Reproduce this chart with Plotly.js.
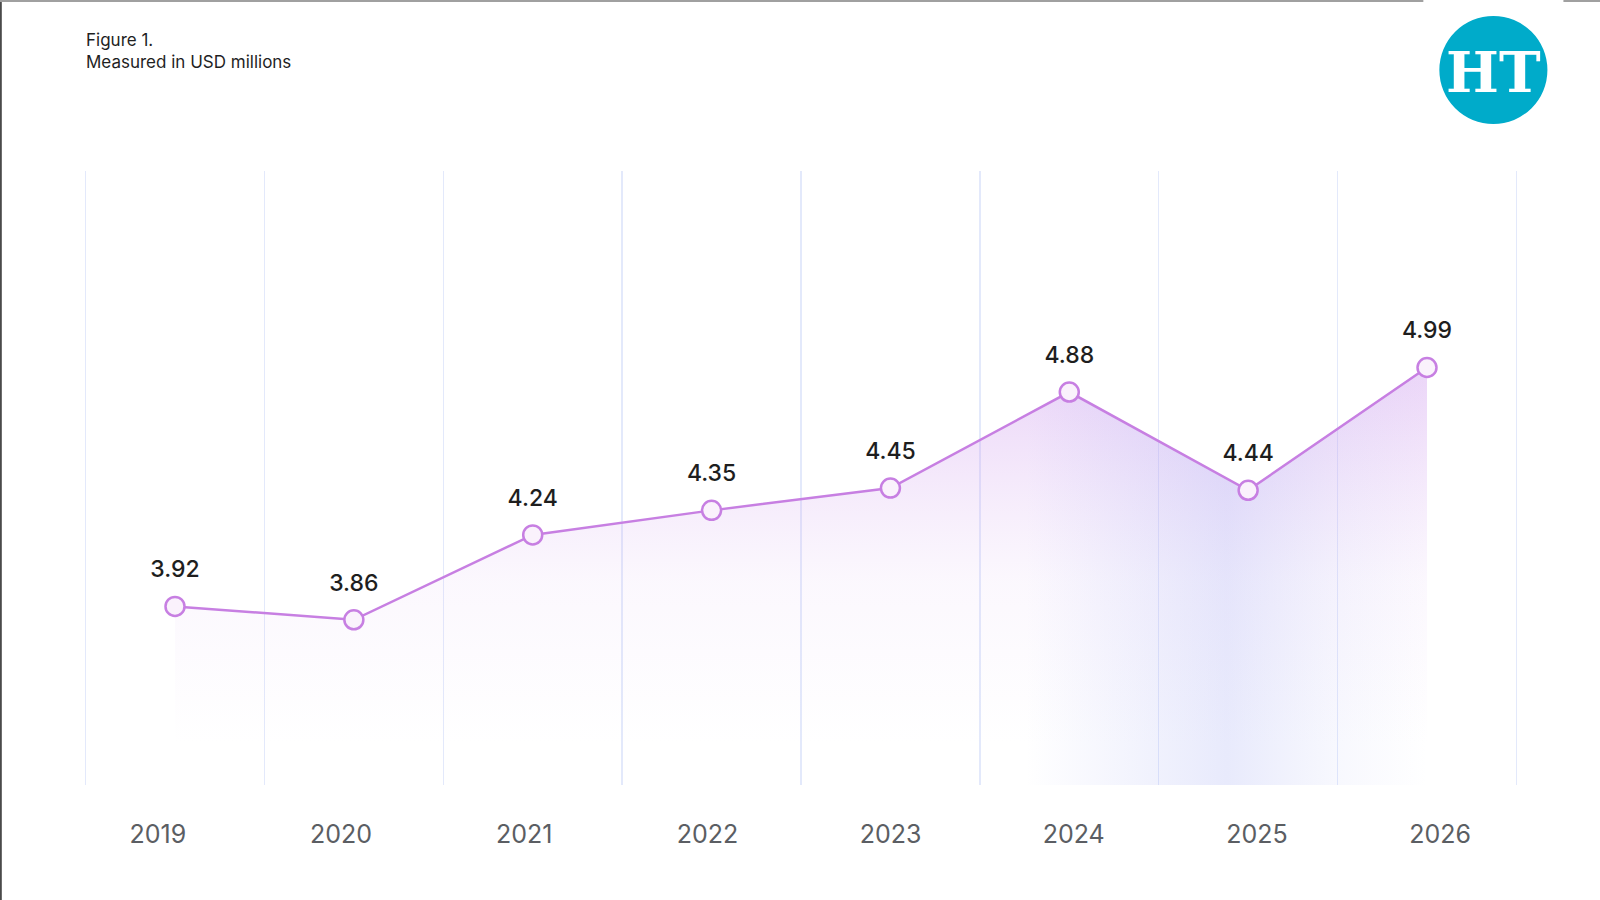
<!DOCTYPE html>
<html>
<head>
<meta charset="utf-8">
<script src="https://cdn.plot.ly/plotly-3.0.1.min.js"></script>
<style>
  html, body { margin: 0; padding: 0; background: #fff; }
  #graph { width: 1600px; height: 900px; }
</style>
</head>
<body>
<div id="graph"></div>
<script>
const years = ['2019', '2020', '2021', '2022', '2023', '2024', '2025', '2026'];
const values = [3.92, 3.86, 4.24, 4.35, 4.45, 4.88, 4.44, 4.99];
const valueLabels = values.map(v => v.toFixed(2));
const noteLines = ['Figure 1.', 'Measured in USD millions'];

// plot box in pixels (a few px wider than the grid so the edge lines show)
const W = 1600, H = 900;
const box = { l: 82.4, r: 1519.6, t: 171, b: 785 };
const px = x => (x - box.l) / (box.r - box.l);
const py = y => (box.b - y) / (box.b - box.t);

const lineColor = '#c77fe2';
const fontFamily = 'Inter, "Noto Sans", sans-serif';

drawChart();

function drawChart() {
  const glowPurple = {
    x: years, y: values,
    mode: 'none',
    fill: 'tozeroy',
    fillgradient: {
      type: 'vertical',
      start: 3.3,
      stop: 4.92,
      colorscale: [
        [0, 'rgba(210,170,238,0)'],
        [0.45, 'rgba(210,165,238,0.08)'],
        [1, 'rgba(200,140,235,0.34)']
      ]
    },
    hoverinfo: 'skip',
    showlegend: false
  };
  const glowBlue = {
    x: years, y: values,
    mode: 'none',
    fill: 'tozeroy',
    fillgradient: {
      type: 'horizontal',
      start: 0,
      stop: 7,
      colorscale: [
        [0, 'rgba(140,150,240,0)'],
        [0.68, 'rgba(140,150,240,0)'],
        [0.84, 'rgba(140,150,240,0.20)'],
        [0.93, 'rgba(150,160,240,0.07)'],
        [1, 'rgba(150,160,240,0)']
      ]
    },
    hoverinfo: 'skip',
    showlegend: false
  };
  const series = {
    x: years, y: values,
    mode: 'lines+markers',
    line: { color: lineColor, width: 2.5 },
    marker: { size: 19, color: '#faf2fc', line: { color: lineColor, width: 2.5 } },
    cliponaxis: false,
    hoverinfo: 'x+y',
    showlegend: false
  };
  // value labels, lifted clear of the markers by a bigger invisible marker
  const labels = {
    x: years, y: values,
    mode: 'markers+text',
    text: valueLabels,
    textposition: 'top center',
    textfont: { family: fontFamily, size: 23, color: '#1e1e1e', weight: 500 },
    marker: { size: 36, color: 'rgba(0,0,0,0)' },
    cliponaxis: false,
    hoverinfo: 'skip',
    showlegend: false
  };
  // carries the year labels on the offset axis
  const yearAxis = {
    x: years, y: values,
    xaxis: 'x2',
    mode: 'none',
    hoverinfo: 'skip',
    showlegend: false
  };

  const layout = {
    width: W, height: H,
    margin: { l: box.l, r: W - box.r, t: box.t, b: H - box.b, pad: 0 },
    paper_bgcolor: '#ffffff',
    plot_bgcolor: '#ffffff',
    font: { family: fontFamily },
    xaxis: {
      type: 'category',
      range: [-0.52, 7.52],
      tickson: 'boundaries',
      showgrid: true,
      gridcolor: '#e3e9fb',
      gridwidth: 1.5,
      showticklabels: false,
      ticks: '',
      zeroline: false,
      showline: false,
      fixedrange: true
    },
    xaxis2: {
      type: 'category',
      overlaying: 'x',
      anchor: 'y',
      side: 'bottom',
      range: [-0.414, 7.436],
      showgrid: false,
      zeroline: false,
      showline: false,
      ticks: '',
      ticklabelstandoff: 32,
      tickfont: { family: fontFamily, size: 25, color: '#5b5e63' },
      fixedrange: true
    },
    yaxis: {
      range: [3.12, 5.87],
      showgrid: false,
      zeroline: false,
      showticklabels: false,
      ticks: '',
      fixedrange: true
    },
    shapes: [
      // frame edges of the clipped figure
      { type: 'line', xref: 'paper', yref: 'paper', x0: px(1), x1: px(1), y0: py(0), y1: py(H),
        line: { color: '#4a4a4a', width: 2.5 } },
      { type: 'line', xref: 'paper', yref: 'paper', x0: px(0), x1: px(1423), y0: py(1), y1: py(1),
        line: { color: '#a0a0a0', width: 2 } },
      { type: 'line', xref: 'paper', yref: 'paper', x0: px(1563), x1: px(W), y0: py(1), y1: py(1),
        line: { color: '#a0a0a0', width: 2 } },
      // logo disc
      { type: 'circle', xref: 'paper', yref: 'paper',
        x0: px(1439), x1: px(1547), y0: py(16), y1: py(124),
        fillcolor: '#00abca', line: { width: 0 } }
    ],
    annotations: [
      {
        xref: 'paper', yref: 'paper', x: px(84), y: py(28),
        xanchor: 'left', yanchor: 'top', align: 'left',
        text: noteLines.join('<br>'),
        showarrow: false,
        font: { family: fontFamily, size: 17, color: '#1f1f1f' }
      },
      {
        xref: 'paper', yref: 'paper', x: px(1493), y: py(72),
        xanchor: 'center', yanchor: 'middle',
        text: 'HT',
        showarrow: false,
        font: { family: '"DejaVu Serif", serif', size: 56, color: '#ffffff', weight: 'bold' }
      }
    ]
  };

  Plotly.newPlot('graph', [glowPurple, glowBlue, series, labels, yearAxis], layout,
    { displayModeBar: false, staticPlot: true });
}
</script>
</body>
</html>
